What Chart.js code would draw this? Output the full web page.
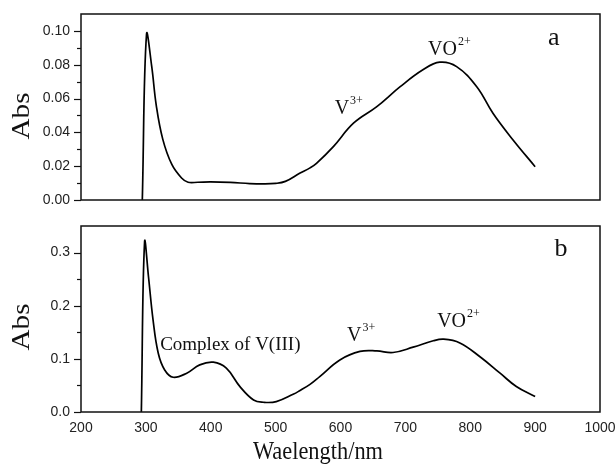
<!DOCTYPE html>
<html>
<head>
<meta charset="utf-8">
<script src="https://cdn.jsdelivr.net/npm/chart.js@4.4.1/dist/chart.umd.min.js"></script>
<style>
  html, body { margin: 0; padding: 0; background: #fff; }
  #wrap { position: relative; width: 615px; height: 464px; }
  .panel { position: absolute; left: 0; width: 615px; }
  #panelA { top: 0; height: 210px; }
  #panelB { top: 210px; height: 254px; }
</style>
</head>
<body>
<div id="wrap">
  <div class="panel" id="panelA"><canvas id="chartA"></canvas></div>
  <div class="panel" id="panelB"><canvas id="chartB"></canvas></div>
</div>
<script>
// panel a spectrum
const wavelengthA = [294.5, 301, 309, 316, 326, 340, 355, 365, 380, 400, 430, 460, 480, 500, 515,
  537, 553, 563, 589, 620, 656, 692, 727, 753, 779, 810, 835, 866, 900];
const absA = [0, 0.098, 0.079, 0.056, 0.036, 0.021, 0.013, 0.0105, 0.0105, 0.0107, 0.0104, 0.0097, 0.0095, 0.0098, 0.011,
  0.0158, 0.019, 0.0217, 0.0316, 0.0454, 0.0552, 0.067, 0.077, 0.0815, 0.0789, 0.067, 0.0513, 0.0355, 0.0197];

// panel b spectrum
const wavelengthB = [293, 298, 304, 311, 319, 329, 342, 363, 383, 404, 424, 445, 466, 481, 501,
  527, 537, 553, 568, 599, 630, 656, 681, 712, 743, 759, 784, 815, 846, 871, 900];
const absB = [0, 0.320, 0.255, 0.174, 0.111, 0.079, 0.0654, 0.073, 0.0887, 0.0937, 0.0824, 0.0478, 0.0226, 0.0183, 0.0195,
  0.0333, 0.040, 0.052, 0.0667, 0.098, 0.114, 0.115, 0.112, 0.122, 0.134, 0.137, 0.130, 0.104, 0.073, 0.048, 0.029];

const xTicks = [200, 300, 400, 500, 600, 700, 800, 900, 1000];
const yTicksA = [0, 0.02, 0.04, 0.06, 0.08, 0.10];
const yMinorA = [0.01, 0.03, 0.05, 0.07, 0.09];
const yTicksB = [0, 0.1, 0.2, 0.3];
const yMinorB = [0.05, 0.15, 0.25];

// text marks: [main text, superscript, wavelength, abs, font size]
const notesA = [
  ['a', '', 920, 0.0959, 26],
  ['VO', '2+', 735, 0.0888, 20],
  ['V', '3+', 591, 0.0538, 20]
];
const notesB = [
  ['b', '', 930, 0.3057, 26],
  ['Complex of V(III)', '', 322, 0.126, 19],
  ['V', '3+', 610, 0.143, 20],
  ['VO', '2+', 749, 0.170, 20]
];

// axis titles: [text, centre x, centre y, rotation, length along text, stretch across]
const titlesA = [['Abs', 22, 116, -Math.PI / 2, 47, 1.15]];
const titlesB = [['Abs', 22, 117, -Math.PI / 2, 47, 1.15], ['Waelength/nm', 318, 242, 0, 130, 1.15]];

const serif = '"Liberation Serif", "Times New Roman", serif';
const sans = '"Liberation Sans", Arial, sans-serif';

const framePlugin = {
  id: 'frame',
  afterDraw(chart, args, opts) {
    const { ctx, chartArea: a, scales } = chart;
    const y = scales.y, x = scales.x;
    ctx.save();
    ctx.strokeStyle = '#111';
    ctx.lineWidth = 1.5;
    ctx.strokeRect(a.left, a.top, a.right - a.left, a.bottom - a.top);

    ctx.lineWidth = 1.2;
    const tick = (v, len) => {
      const p = Math.round(y.getPixelForValue(v)) + 0.5;
      ctx.beginPath();
      ctx.moveTo(a.left - len, p);
      ctx.lineTo(a.left, p);
      ctx.stroke();
    };
    opts.major.forEach(v => tick(v, 7));
    opts.minor.forEach(v => tick(v, 4));

    ctx.fillStyle = '#111';
    ctx.textBaseline = 'middle';
    ctx.textAlign = 'left';
    opts.notes.forEach(([txt, sup, wx, wy, size]) => {
      const px = x.getPixelForValue(wx);
      const py = y.getPixelForValue(wy);
      ctx.font = size + 'px ' + serif;
      ctx.fillText(txt, px, py);
      if (sup) {
        const w = ctx.measureText(txt).width;
        ctx.font = '12px ' + serif;
        ctx.fillText(sup, px + w + 1, py - 8);
      }
    });

    // axis titles, stretched like the scanned figure
    ctx.textAlign = 'center';
    ctx.font = '22px ' + serif;
    opts.titles.forEach(([txt, cx, cy, rot, len, across]) => {
      const w = ctx.measureText(txt).width;
      ctx.save();
      ctx.translate(cx, cy);
      ctx.rotate(rot);
      ctx.scale(len / w, across);
      ctx.fillText(txt, 0, 0);
      ctx.restore();
    });
    ctx.restore();
  }
};

function makeChart(id, xs, ys, cfg) {
  return new Chart(document.getElementById(id), {
    type: 'line',
    data: {
      datasets: [{
        data: xs.map((v, i) => ({ x: v, y: ys[i] })),
        borderColor: '#000',
        borderWidth: 1.7,
        pointRadius: 0,
        tension: 0.4,
        fill: false
      }]
    },
    options: {
      responsive: true,
      maintainAspectRatio: false,
      animation: false,
      layout: { padding: cfg.padding },
      plugins: {
        legend: { display: false },
        tooltip: { enabled: false },
        frame: { major: cfg.yTicks, minor: cfg.yMinor, notes: cfg.notes, titles: cfg.titles }
      },
      scales: {
        x: {
          type: 'linear',
          min: 200,
          max: 1000,
          display: cfg.showX,
          grid: { display: false, drawTicks: false },
          border: { display: false },
          afterBuildTicks: s => { s.ticks = xTicks.map(v => ({ value: v })); },
          afterFit: s => {
            if (cfg.showX) s.height = 52;
            s.paddingLeft = 0;
            s.paddingRight = 0;
          },
          ticks: {
            padding: 8,
            color: '#222',
            font: { family: sans, size: 14 },
            maxRotation: 0,
            callback: v => String(v)
          },
          title: { display: false }
        },
        y: {
          min: 0,
          max: cfg.yMax,
          grid: { display: false, drawTicks: false },
          border: { display: false },
          afterBuildTicks: s => { s.ticks = cfg.yTicks.map(v => ({ value: v })); },
          afterFit: s => {
            s.width = 81;
            s.paddingTop = 0;
            s.paddingBottom = 0;
          },
          ticks: {
            padding: 11,
            color: '#222',
            font: { family: sans, size: 14 },
            callback: v => v.toFixed(cfg.digits)
          },
          title: { display: false }
        }
      }
    },
    plugins: [framePlugin]
  });
}

makeChart('chartA', wavelengthA, absA, {
  padding: { top: 14, right: 15, bottom: 10, left: 0 },
  showX: false, yMax: 0.11, yTicks: yTicksA, yMinor: yMinorA, digits: 2, notes: notesA, titles: titlesA
});
makeChart('chartB', wavelengthB, absB, {
  padding: { top: 16, right: 15, bottom: 0, left: 0 },
  showX: true, yMax: 0.35, yTicks: yTicksB, yMinor: yMinorB, digits: 1, notes: notesB, titles: titlesB
});
</script>
</body>
</html>
